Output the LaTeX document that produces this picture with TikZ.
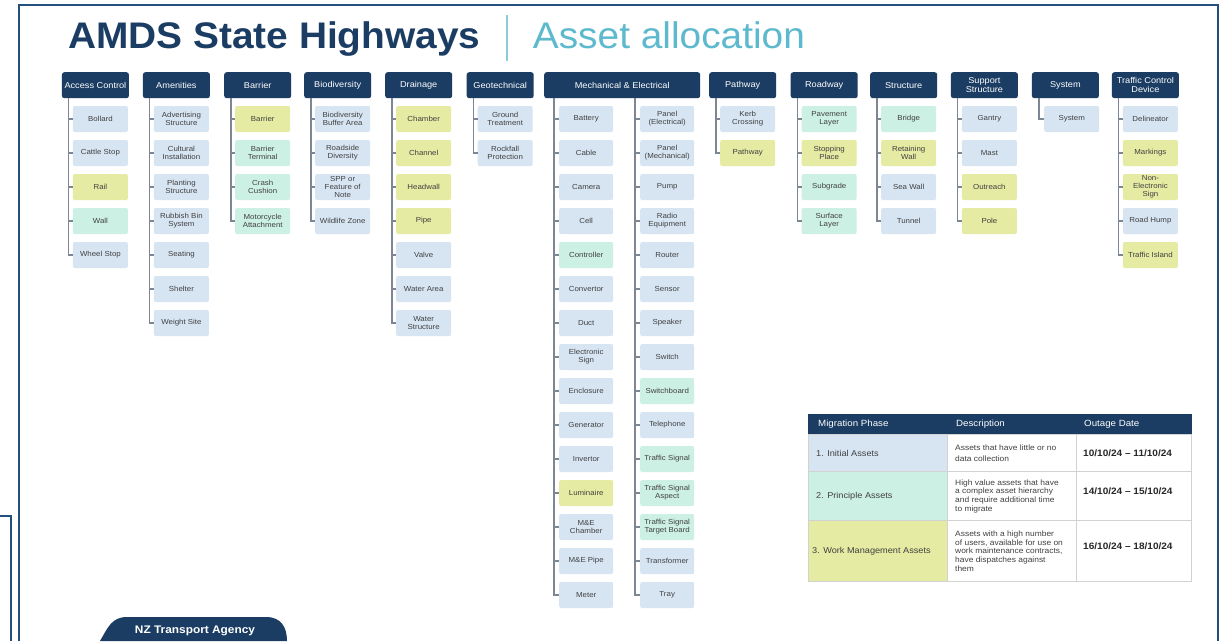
\documentclass[tikz,border=0pt]{standalone}
\usepackage{fontspec}
\setmainfont{Liberation Sans}
\newfontfamily\sm[FakeStretch=1.08]{Liberation Sans}
\newfontfamily\ttl[FakeStretch=1.05]{Liberation Sans}
\definecolor{navy}{HTML}{1B3D63}
\definecolor{cb}{HTML}{D7E5F3}
\definecolor{cm}{HTML}{CDF0E4}
\definecolor{cy}{HTML}{E5EBA2}
\definecolor{framec}{HTML}{24507D}
\definecolor{treeln}{HTML}{7D8793}
\definecolor{ttlteal}{HTML}{5DB9CE}
\definecolor{bart}{HTML}{8CCBDB}
\definecolor{txt}{HTML}{404040}
\definecolor{gridc}{HTML}{D2D2D2}
\newcommand\kids[6]{%
  \foreach \lab/\clr [count=\i from 0] in {#6}{%
    \node[leaf,fill=\clr,minimum width=#5] (#2\i) at (#4,119+34*\i) {\lab};
    \draw[tree] ([xshift=#3]#1.south west) |- (#2\i.west);
  }}
\begin{document}
\begin{tikzpicture}[x=1pt,y=-1pt,
  hdr/.style={fill=navy, rounded corners=2.5pt, minimum width=67pt, minimum height=26pt, inner sep=1pt, text=white, font=\sm\fontsize{8.5}{9}\selectfont, align=center, anchor=north west},
  leaf/.style={rounded corners=2pt, minimum height=26pt, inner sep=1pt, text=txt, font=\sm\fontsize{7.3}{7.9}\selectfont, align=center, anchor=west},
  tree/.style={draw=treeln, line width=1.5pt},
  cellb/.style={draw=gridc, line width=1.2pt, inner sep=0pt, anchor=north west},
  thtext/.style={text=white, font=\sm\fontsize{9}{10}\selectfont, anchor=west, inner sep=0pt},
  phtext/.style={text=txt, font=\sm\fontsize{8.5}{9.5}\selectfont, anchor=west, inner sep=0pt},
  dstext/.style={text=txt, font=\sm\fontsize{7.8}{8.7}\selectfont, anchor=west, inner sep=0pt, align=left},
  dttext/.style={text=black!85, font=\sm\bfseries\fontsize{9.3}{10}\selectfont, anchor=west, inner sep=0pt},
]
\useasboundingbox (0,0) rectangle (1225,641);
\fill[white] (0,0) rectangle (1225,641);
% frames
\draw[framec, line width=2pt] (19,641) -- (19,5) -- (1218,5) -- (1218,641);
\draw[framec, line width=1.5pt] (0,516) -- (11,516) -- (11,641);
% title
\node[anchor=base west, inner sep=0pt, text=navy, font=\ttl\bfseries\fontsize{37}{40}\selectfont] (t1) at (68,48.5) {AMDS State Highways};
\draw[bart, line width=2.5pt] (507,15) -- (507,61);
\node[anchor=base west, inner sep=0pt, text=ttlteal, font=\ttl\fontsize{37}{40}\selectfont] (t2) at (532.7,48.5) {Asset allocation};
% columns
\node[hdr] (ac) at (61.7,72) {Access Control};
\kids{ac}{ac}{7pt}{72.7}{55pt}{Bollard/cb,Cattle Stop/cb,Rail/cy,Wall/cm,Wheel Stop/cb}
\node[hdr] (am) at (142.7,72) {Amenities};
\kids{am}{am}{7pt}{153.7}{55pt}{Advertising\\Structure/cb,Cultural\\Installation/cb,Planting\\Structure/cb,Rubbish Bin\\System/cb,Seating/cb,Shelter/cb,Weight Site/cb}
\node[hdr] (ba) at (224,72) {Barrier};
\kids{ba}{ba}{7pt}{235}{55pt}{Barrier/cy,Barrier\\Terminal/cm,Crash\\Cushion/cm,Motorcycle\\Attachment/cm}
\node[hdr] (bd) at (304,72) {Biodiversity};
\kids{bd}{bd}{7pt}{315}{55pt}{Biodiversity\\Buffer Area/cb,Roadside\\Diversity/cb,SPP or\\Feature of\\Note/cb,Wildlife Zone/cb}
\node[hdr] (dr) at (385,72) {Drainage};
\kids{dr}{dr}{7pt}{396}{55pt}{Chamber/cy,Channel/cy,Headwall/cy,Pipe/cy,Valve/cb,Water Area/cb,Water\\Structure/cb}
\node[hdr] (ge) at (466.5,72) {Geotechnical};
\kids{ge}{ge}{7pt}{477.5}{55pt}{Ground\\Treatment/cb,Rockfall\\Protection/cb}
\node[hdr, minimum width=156pt] (me) at (544,72) {Mechanical \& Electrical};
\kids{me}{mea}{10pt}{559}{54pt}{Battery/cb,Cable/cb,Camera/cb,Cell/cb,Controller/cm,Convertor/cb,Duct/cb,Electronic\\Sign/cb,Enclosure/cb,Generator/cb,Invertor/cb,Luminaire/cy,M\&E\\Chamber/cb,M\&E Pipe/cb,Meter/cb}
\kids{me}{meb}{91pt}{640}{54pt}{Panel\\(Electrical)/cb,Panel\\(Mechanical)/cb,Pump/cb,Radio\\Equipment/cb,Router/cb,Sensor/cb,Speaker/cb,Switch/cb,Switchboard/cm,Telephone/cb,Traffic Signal/cm,Traffic Signal\\Aspect/cm,Traffic Signal\\Target Board/cm,Transformer/cb,Tray/cb}
\node[hdr] (pa) at (709,72) {Pathway};
\kids{pa}{pa}{7pt}{720}{55pt}{Kerb\\Crossing/cb,Pathway/cy}
\node[hdr] (ro) at (790.5,72) {Roadway};
\kids{ro}{ro}{7pt}{801.5}{55pt}{Pavement\\Layer/cm,Stopping\\Place/cy,Subgrade/cm,Surface\\Layer/cm}
\node[hdr] (st) at (870,72) {Structure};
\kids{st}{st}{7pt}{881}{55pt}{Bridge/cm,Retaining\\Wall/cy,Sea Wall/cb,Tunnel/cb}
\node[hdr] (ss) at (950.7,72) {Support\\Structure};
\kids{ss}{ss}{7pt}{961.7}{55pt}{Gantry/cb,Mast/cb,Outreach/cy,Pole/cy}
\node[hdr] (sy) at (1031.7,72) {System};
\kids{sy}{sy}{7.5pt}{1044}{55pt}{System/cb}
\node[hdr] (tc) at (1111.7,72) {Traffic Control\\Device};
\kids{tc}{tc}{7pt}{1122.7}{55pt}{Delineator/cb,Markings/cy,Non-\\Electronic\\Sign/cy,Road Hump/cb,Traffic Island/cy}
% table
\node[cellb, fill=navy, draw=navy, minimum width=383pt, minimum height=20pt] (th) at (808,414) {};
\node[cellb, fill=cb, minimum width=139pt, minimum height=37pt] (p1) at (808,434) {};
\node[cellb, fill=white, minimum width=129pt, minimum height=37pt] (d1) at (947,434) {};
\node[cellb, fill=white, minimum width=115pt, minimum height=37pt] (o1) at (1076,434) {};
\node[cellb, fill=cm, minimum width=139pt, minimum height=49pt] (p2) at (808,471) {};
\node[cellb, fill=white, minimum width=129pt, minimum height=49pt] (d2) at (947,471) {};
\node[cellb, fill=white, minimum width=115pt, minimum height=49pt] (o2) at (1076,471) {};
\node[cellb, fill=cy, minimum width=139pt, minimum height=61pt] (p3) at (808,520) {};
\node[cellb, fill=white, minimum width=129pt, minimum height=61pt] (d3) at (947,520) {};
\node[cellb, fill=white, minimum width=115pt, minimum height=61pt] (o3) at (1076,520) {};
\node[thtext] (h1) at (818,424) {Migration Phase};
\node[thtext] (h2) at (956,424) {Description};
\node[thtext] (h3) at (1084,424) {Outage Date};
\node[phtext] (r1) at ([xshift=8pt]p1.west) {1. Initial Assets};
\node[phtext] (r2) at ([xshift=8pt]p2.west) {2. Principle Assets};
\node[phtext] (r3) at ([xshift=4pt]p3.west) {3. Work Management Assets};
\node[dstext] (e1) at ([xshift=8pt]d1.west) {Assets that have little or no\\[3pt]data collection};
\node[dstext] (e2) at ([xshift=8pt]d2.west) {High value assets that have\\a complex asset hierarchy\\and require additional time\\to migrate};
\node[dstext] (e3) at ([xshift=8pt]d3.west) {Assets with a high number\\of users, available for use on\\work maintenance contracts,\\have dispatches against\\them};
\node[dttext] (a1) at ([xshift=7pt]o1.west) {10/10/24 – 11/10/24};
\node[dttext] (a2) at ([xshift=7pt,yshift=5pt]o2.west) {14/10/24 – 15/10/24};
\node[dttext] (a3) at ([xshift=7pt,yshift=5pt]o3.west) {16/10/24 – 18/10/24};
% footer
\fill[navy] (100,641) .. controls (108,627) and (112,617) .. (127,617) -- (266,617) .. controls (281,617) and (287,627) .. (287,641) -- cycle;
\node[text=white, inner sep=0pt, font=\sm\bfseries\fontsize{11}{12}\selectfont] (nzta) at (195,631) {NZ Transport Agency};
\end{tikzpicture}
\end{document}
